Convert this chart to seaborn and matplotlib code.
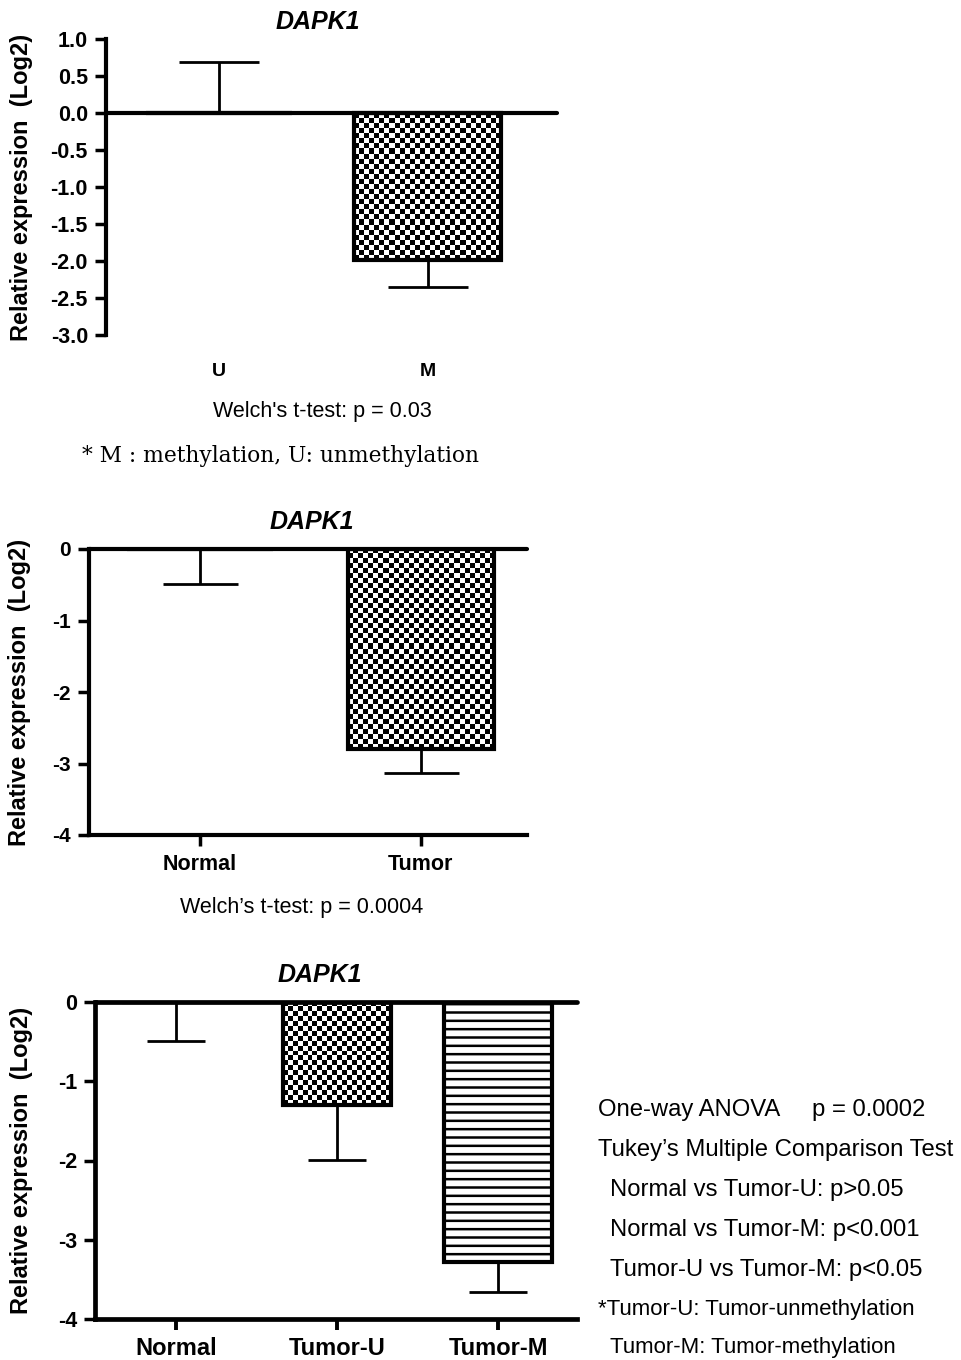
import matplotlib
matplotlib.use('Agg')
import matplotlib.pyplot as plt
import seaborn as sns
import numpy as np
import pandas as pd

# values
groups_a = ['U', 'M']
mean_a = [0.0, -1.98]
err_up_a = [0.69, 0.0]
err_dn_a = [0.0, 0.37]

groups_b = ['Normal', 'Tumor']
mean_b = [0.0, -2.80]
err_up_b = [0.0, 0.0]
err_dn_b = [0.49, 0.33]

groups_c = ['Normal', 'Tumor-U', 'Tumor-M']
mean_c = [0.0, -1.30, -3.28]
err_up_c = [0.0, 0.0, 0.0]
err_dn_c = [0.49, 0.69, 0.38]

yticks_a = [-3.0, -2.5, -2.0, -1.5, -1.0, -0.5, 0.0, 0.5, 1.0]
yticks_bc = [-4, -3, -2, -1, 0]

gene = 'DAPK1'
ylabel = 'Relative expression  (Log2)'
note_a = "Welch's t-test: p = 0.03"
foot_a = '* M : methylation, U: unmethylation'
note_b = 'Welch\u2019s t-test: p = 0.0004'
stats_c = ['One-way ANOVA     p = 0.0002',
           'Tukey\u2019s Multiple Comparison Test',
           'Normal vs Tumor-U: p>0.05',
           'Normal vs Tumor-M: p<0.001',
           'Tumor-U vs Tumor-M: p<0.05']
foot_c = ['*Tumor-U: Tumor-unmethylation', 'Tumor-M: Tumor-methylation']

sns.set_style('ticks')
plt.rcParams['font.family'] = ['Liberation Sans', 'DejaVu Sans']
plt.rcParams['axes.unicode_minus'] = False
plt.rcParams['hatch.linewidth'] = 1.8
plt.rcParams['hatch.color'] = 'black'
for key in ['text.color', 'axes.labelcolor', 'xtick.color', 'ytick.color', 'axes.edgecolor']:
    plt.rcParams[key] = 'black'

W, H = 961, 1360
fig = plt.figure(figsize=(W / 100, H / 100), dpi=100)


def add_ax(l, t, r, b):
    return fig.add_axes([l / W, 1 - b / H, (r - l) / W, (b - t) / H])


def ftext(x, y, s, **kw):
    kw.setdefault('va', 'center')
    fig.text(x / W, 1 - y / H, s, **kw)


def panel(ax, groups, means, up, dn, width, capsize, yticks, yfmt, ysize, xsize, spine_w=3):
    df = pd.DataFrame({'group': groups, 'value': means})
    sns.barplot(data=df, x='group', y='value', order=groups, width=width,
                color='white', saturation=1, edgecolor='black', linewidth=3,
                errorbar=None, ax=ax, zorder=2)
    ax.errorbar(range(len(groups)), means, yerr=[dn, up], fmt='none',
                ecolor='black', elinewidth=2, capsize=capsize, capthick=2,
                zorder=3)
    ax.axhline(0, color='black', lw=spine_w, zorder=4, clip_on=False)
    ax.set_xlabel('')
    ax.set_ylabel(ylabel, fontsize=17, fontweight='bold')
    ax.spines['top'].set_visible(False)
    ax.spines['right'].set_visible(False)
    ax.spines['left'].set_linewidth(spine_w)
    ax.spines['bottom'].set_linewidth(spine_w)
    ax.set_yticks(yticks)
    ax.set_yticklabels([yfmt.format(v) for v in yticks], fontsize=ysize, fontweight='bold')
    ax.set_xticks(range(len(groups)))
    ax.set_xticklabels(groups, fontsize=xsize, fontweight='bold')
    ax.tick_params(axis='y', length=8, width=2.5, pad=5)


def checker(ax, patch, cell=5):
    x0, y0 = patch.get_x(), patch.get_y()
    w, h = patch.get_width(), patch.get_height()
    p0 = ax.transData.transform((x0, y0))
    p1 = ax.transData.transform((x0 + w, y0 + h))
    nx = max(1, int(round(abs(p1[0] - p0[0]) / cell)))
    ny = max(1, int(round(abs(p1[1] - p0[1]) / cell)))
    board = np.indices((ny, nx)).sum(axis=0) % 2
    im = ax.imshow(board, cmap='gray', vmin=0, vmax=1, interpolation='nearest',
                   extent=(x0, x0 + w, y0, y0 + h), aspect='auto', zorder=1.5)
    im.set_clip_path(patch)
    patch.set_facecolor('none')


# ---- panel A: U vs M
ax1 = add_ax(106, 39, 557, 335)
panel(ax1, groups_a, mean_a, err_up_a, err_dn_a, 0.70, 29, yticks_a, '{:.1f}', 15.5, 14)
ax1.set_ylim(-3, 1)
ax1.set_xlim(-0.54, 1.62)
ax1.spines['bottom'].set_visible(False)
ax1.tick_params(axis='x', length=0, pad=20)
checker(ax1, ax1.patches[1])
ax1.set_ylim(-3, 1)
ax1.set_xlim(-0.54, 1.62)
ax1.yaxis.set_label_coords((33 - 106) / (557 - 106), 0.5)

# ---- panel B: Normal vs Tumor
ax2 = add_ax(89, 549, 527, 835)
panel(ax2, groups_b, mean_b, err_up_b, err_dn_b, 0.66, 27, yticks_bc, '{:d}', 15, 15.5)
ax2.set_ylim(-4, 0)
ax2.set_xlim(-0.5, 1.48)
ax2.tick_params(axis='x', length=8, width=2.5, pad=6)
checker(ax2, ax2.patches[1])
ax2.set_ylim(-4, 0)
ax2.set_xlim(-0.5, 1.48)
ax2.yaxis.set_label_coords((31 - 89) / (527 - 89), 0.5)

# ---- panel C: Normal vs Tumor-U vs Tumor-M
ax3 = add_ax(95, 1002, 577, 1319)
panel(ax3, groups_c, mean_c, err_up_c, err_dn_c, 0.67, 21, yticks_bc, '{:d}', 15.5, 17, spine_w=3.4)
ax3.set_ylim(-4, 0)
ax3.set_xlim(-0.503, 2.49)
ax3.tick_params(axis='x', length=8, width=2.8, pad=5)
checker(ax3, ax3.patches[1])
ax3.patches[2].set_hatch('--')
ax3.set_ylim(-4, 0)
ax3.set_xlim(-0.503, 2.49)
ax3.yaxis.set_label_coords((33 - 95) / (577 - 95), 0.5)

# titles and notes
for (x, y) in [(318, 22), (312, 522), (320, 975)]:
    ftext(x, y, gene, ha='center', fontsize=18, fontweight='bold', fontstyle='italic')

ftext(322, 412, note_a, ha='center', fontsize=15.5)
ftext(280, 456, foot_a, ha='center', fontsize=15.7, family=['DejaVu Serif'])
ftext(302, 907, note_b, ha='center', fontsize=15.5)

xs = [598, 598, 610, 610, 610]
for i, s in enumerate(stats_c):
    ftext(xs[i], 1110 + 40 * i, s, ha='left', fontsize=17.2)
ftext(598, 1310, foot_c[0], ha='left', fontsize=16)
ftext(610, 1348, foot_c[1], ha='left', fontsize=16)

fig.savefig('out.png', dpi=100)
